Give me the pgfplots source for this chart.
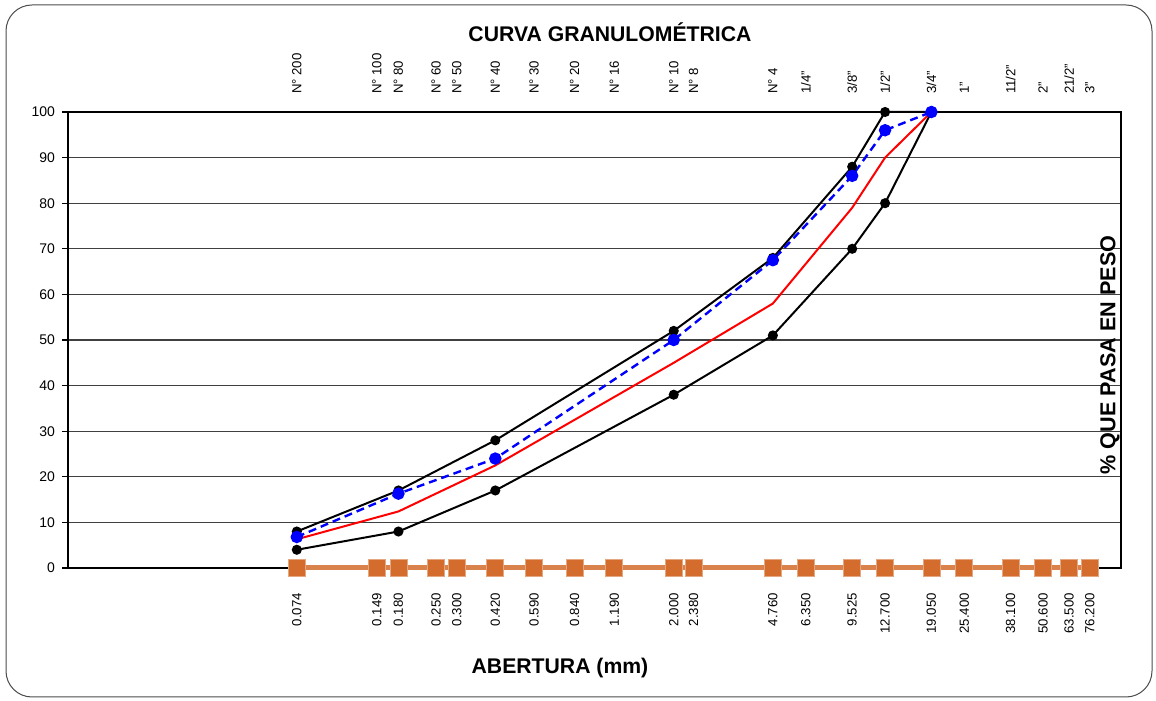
\documentclass[border=0pt]{standalone}
\usepackage{fontspec}
\setmainfont{Liberation Sans}
\usepackage{pgfplots}
\pgfplotsset{compat=1.18}
\definecolor{orgC}{RGB}{211,108,44}
\begin{document}
\begin{tikzpicture}
\begin{axis}[xmode=log, xmin=0.01, xmax=100, ymin=0, ymax=100,
  width=526.5pt, height=228pt, scale only axis, at={(34pt,66.5pt)}, anchor=south west, clip=false,
  xtick={0.074,0.149,0.180,0.250,0.300,0.420,0.590,0.840,1.190,2.000,2.380,4.760,6.350,9.525,12.700,19.050,25.400,38.100,50.600,63.500,76.200},
  xtick style={draw=none},
  ytick={0,10,...,100}, ymajorgrids, grid style={black!75, line width=0.6pt},
  axis line style={black, line width=0.6pt},
  tick align=outside, ytick pos=left, major tick length=3pt,
  ytick style={black, line width=0.6pt},
  xticklabels={0.074,0.149,0.180,0.250,0.300,0.420,0.590,0.840,1.190,2.000,2.380,4.760,6.350,9.525,12.700,19.050,25.400,38.100,50.600,63.500,76.200},
  xticklabel style={rotate=90, anchor=east, font=\fontsize{6.6}{7}\selectfont},
  xticklabel shift=6pt,
  yticklabel style={font=\fontsize{7}{8}\selectfont},
  /pgf/number format/assume math mode=true]
\addplot[black, line width=1pt, mark=*, mark size=2pt] coordinates {(0.074,8)(0.180,17)(0.420,28)(2.000,52)(4.760,68)(9.525,88)(12.700,100)(19.050,100)};
\addplot[black, line width=1pt, mark=*, mark size=2pt] coordinates {(0.074,4)(0.180,8)(0.420,17)(2.000,38)(4.760,51)(9.525,70)(12.700,80)(19.050,100)};
\addplot[red, line width=1pt] coordinates {(0.074,6.3)(0.180,12.4)(0.420,22.5)(2.000,45)(4.760,58)(9.525,79)(12.700,90)(19.050,100)};
\addplot[blue, line width=1.2pt, dash pattern=on 4pt off 2.5pt, mark=*, mark size=2.5pt, mark options={solid}] coordinates {(0.074,6.8)(0.180,16.3)(0.420,24)(2.000,50)(4.760,67.5)(9.525,86)(12.700,96)(19.050,100)};
\addplot[orgC!85!white, line width=2.5pt, mark=square*, mark size=4.25pt, mark options={fill=orgC, draw=orgC!60!white, line width=0.4pt}] coordinates {(0.074,0)(0.149,0)(0.180,0)(0.250,0)(0.300,0)(0.420,0)(0.590,0)(0.840,0)(1.190,0)(2.000,0)(2.380,0)(4.760,0)(6.350,0)(9.525,0)(12.700,0)(19.050,0)(25.400,0)(38.100,0)(50.600,0)(63.500,0)(76.200,0)};
\end{axis}
\begin{axis}[xmode=log, xmin=0.01, xmax=100, ymin=0, ymax=100,
  width=526.5pt, height=228pt, scale only axis, at={(34pt,66.5pt)}, anchor=south west, clip=false,
  xtick={0.074,0.149,0.180,0.250,0.300,0.420,0.590,0.840,1.190,2.000,2.380,4.760,6.350,9.525,12.700,19.050,25.400,38.100,50.600,63.500,76.200},
  xtick style={draw=none},
  axis x line*=top, axis y line=none, axis line style={draw=none},
  ytick=\empty,
  xticklabels={N° 200,N° 100,N° 80,N° 60,N° 50,N° 40,N° 30,N° 20,N° 16,N° 10,N° 8,N° 4,1/4",3/8",1/2",3/4",1",11/2",2",21/2",3"},
  xticklabel style={rotate=90, anchor=west, font=\fontsize{6.6}{7}\selectfont},
  xticklabel shift=5.5pt]
\addplot[draw=none] coordinates {(1,50)};
\end{axis}
\draw[black!70, line width=0.5pt, rounded corners=13pt] (3pt,2pt) rectangle (576pt,348pt);
\node[font=\bfseries\fontsize{10.6}{12}\selectfont] at (305pt,334.5pt) {CURVA GRANULOMÉTRICA};
\node[font=\bfseries\fontsize{10.6}{12}\selectfont] at (280pt,16.5pt) {ABERTURA (mm)};
\node[font=\bfseries\fontsize{10.8}{12}\selectfont, rotate=90] at (555pt,173pt) {\% QUE PASA EN PESO};
\pgfresetboundingbox
\useasboundingbox (0,0) rectangle (578pt,350.5pt);
\end{tikzpicture}
\end{document}
